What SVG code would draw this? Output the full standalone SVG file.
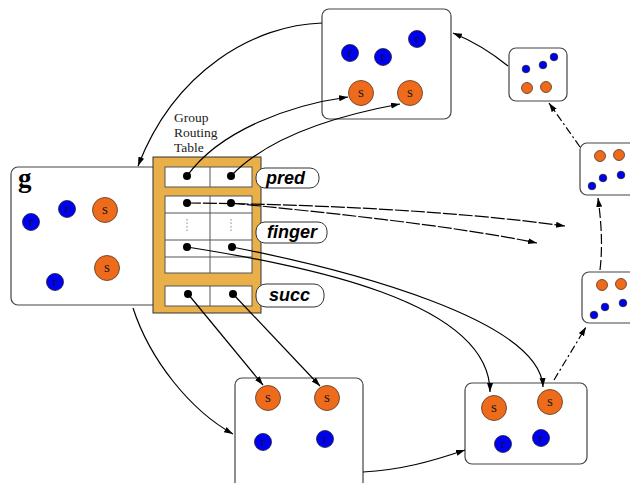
<svg xmlns="http://www.w3.org/2000/svg" width="630" height="483" viewBox="0 0 630 483">
<defs>
<marker id="ah" markerUnits="userSpaceOnUse" markerWidth="10" markerHeight="8" refX="9" refY="3" orient="auto">
<path d="M0,0 L9,3 L0,6 z" fill="#000"/>
</marker>
<style>
.box{fill:#fff;stroke:#444;stroke-width:1.2}
.b{fill:#0000f0;stroke:#223;stroke-width:0.8}
.o{fill:#ef6b1c;stroke:#553322;stroke-width:0.8}
.lbl{font-family:"Liberation Serif",serif;fill:#1a1a1a;text-anchor:middle}
.ls{font-size:15px}
.lr{font-size:12px;fill:#111}
.con{fill:none;stroke:#000;stroke-width:1.2;marker-end:url(#ah)}
.dash{stroke-dasharray:14 2}
.dd{stroke-dasharray:8 3 2 3}
.cell{fill:#fff;stroke:#555;stroke-width:1}
.dot{fill:#000}
.pill{fill:#fff;stroke:#333;stroke-width:1}
.pt{font-family:"Liberation Sans",Arial,sans-serif;font-weight:bold;font-style:italic;font-size:18px;fill:#000}
</style>
</defs>
<rect width="630" height="483" fill="#fff"/>

<g id="node-top">
<rect class="box" x="322" y="9" width="129" height="110" rx="7"/>
<circle class="b" cx="350" cy="53" r="8.5"/><text class="lbl lr" x="350" y="57">r</text>
<circle class="b" cx="383" cy="57" r="8.5"/><text class="lbl lr" x="383" y="61">r</text>
<circle class="b" cx="417" cy="39" r="8.5"/><text class="lbl lr" x="417" y="43">r</text>
<circle class="o" cx="361" cy="93" r="12.5"/><text class="lbl ls" x="361" y="97">s</text>
<circle class="o" cx="410" cy="93" r="12.5"/><text class="lbl ls" x="410" y="97">s</text>
</g>

<g id="node-small-top">
<rect class="box" x="509" y="48" width="58" height="53" rx="7"/>
<circle class="b" cx="526" cy="69" r="3.8"/>
<circle class="b" cx="543" cy="65" r="3.8"/>
<circle class="b" cx="554" cy="57" r="3.8"/>
<circle class="o" cx="527" cy="88" r="5.5"/>
<circle class="o" cx="546" cy="87" r="5.5"/>
</g>

<g id="node-right-mid">
<rect class="box" x="580" y="143" width="60" height="52" rx="7"/>
<circle class="o" cx="600" cy="156" r="5.5"/>
<circle class="o" cx="619" cy="155" r="5.5"/>
<circle class="b" cx="592" cy="186" r="3.8"/>
<circle class="b" cx="603" cy="178" r="3.8"/>
<circle class="b" cx="621" cy="175" r="3.8"/>
</g>

<g id="node-right-low">
<rect class="box" x="582" y="272" width="60" height="51" rx="7"/>
<circle class="o" cx="602" cy="285" r="5.5"/>
<circle class="o" cx="621" cy="284" r="5.5"/>
<circle class="b" cx="594" cy="315" r="3.8"/>
<circle class="b" cx="605" cy="307" r="3.8"/>
<circle class="b" cx="623" cy="303" r="3.8"/>
</g>

<g id="node-bottom-right">
<rect class="box" x="465" y="383" width="122" height="81" rx="7"/>
<circle class="o" cx="494" cy="408" r="12.5"/><text class="lbl ls" x="494" y="412">s</text>
<circle class="o" cx="550" cy="402" r="12.5"/><text class="lbl ls" x="550" y="406">s</text>
<circle class="b" cx="503" cy="444" r="8.5"/><text class="lbl lr" x="503" y="448">r</text>
<circle class="b" cx="541" cy="438" r="8.5"/><text class="lbl lr" x="541" y="442">r</text>
</g>

<g id="node-bottom-center">
<rect class="box" x="235" y="378" width="128" height="120" rx="7"/>
<circle class="o" cx="268" cy="398" r="12.5"/><text class="lbl ls" x="268" y="402">s</text>
<circle class="o" cx="327" cy="398" r="12.5"/><text class="lbl ls" x="327" y="402">s</text>
<circle class="b" cx="263" cy="442" r="8.5"/><text class="lbl lr" x="263" y="446">r</text>
<circle class="b" cx="325" cy="439" r="8.5"/><text class="lbl lr" x="325" y="443">r</text>
</g>

<g id="node-g">
<rect class="box" x="11" y="167" width="150" height="138" rx="7"/>
<text x="18" y="187" font-family="'Liberation Serif',serif" font-weight="bold" font-size="27" fill="#000">g</text>
<circle class="b" cx="31" cy="222" r="8.5"/><text class="lbl lr" x="31" y="226">r</text>
<circle class="b" cx="67" cy="209" r="8.5"/><text class="lbl lr" x="67" y="213">r</text>
<circle class="o" cx="105" cy="210" r="12.5"/><text class="lbl ls" x="105" y="214">s</text>
<circle class="o" cx="107" cy="268" r="12.5"/><text class="lbl ls" x="107" y="272">s</text>
<circle class="b" cx="55" cy="282" r="8.5"/><text class="lbl lr" x="55" y="286">r</text>
</g>

<g id="routing-table">
<text font-family="'Liberation Serif',serif" font-size="13.5" fill="#222"><tspan x="174" y="122">Group</tspan><tspan x="174" y="137">Routing</tspan><tspan x="174" y="152">Table</tspan></text>
<rect x="153" y="157" width="108" height="156" fill="#e9b04a" stroke="#333" stroke-width="1"/>
<rect class="cell" x="165" y="167" width="87" height="20"/>
<line x1="210" y1="167" x2="210" y2="187" stroke="#555"/>
<rect class="cell" x="165" y="196" width="87" height="77"/>
<line x1="210" y1="196" x2="210" y2="273" stroke="#555"/>
<line x1="165" y1="213" x2="252" y2="213" stroke="#555"/>
<line x1="165" y1="240" x2="252" y2="240" stroke="#555"/>
<line x1="165" y1="257" x2="252" y2="257" stroke="#555"/>
<line x1="187" y1="219" x2="187" y2="232" stroke="#888" stroke-dasharray="1.5 2"/>
<line x1="231" y1="219" x2="231" y2="232" stroke="#888" stroke-dasharray="1.5 2"/>
<rect class="cell" x="165" y="286" width="87" height="20"/>
<line x1="210" y1="286" x2="210" y2="306" stroke="#555"/>
<circle class="dot" cx="187" cy="176" r="4"/>
<circle class="dot" cx="231" cy="176" r="4"/>
<circle class="dot" cx="187" cy="203" r="4"/>
<circle class="dot" cx="231" cy="203" r="4"/>
<circle class="dot" cx="187" cy="247" r="4"/>
<circle class="dot" cx="232" cy="247" r="4"/>
<circle class="dot" cx="188" cy="294" r="4"/>
<circle class="dot" cx="233" cy="294" r="4"/>
</g>

<g id="label-pred"><rect class="pill" x="256" y="168" width="63" height="20" rx="9"/><text class="pt" x="266" y="184">pred</text></g>
<g id="label-finger"><rect class="pill" x="256" y="222" width="71" height="21" rx="9"/><text class="pt" x="267" y="238">finger</text></g>
<g id="label-succ"><rect class="pill" x="256" y="284" width="68" height="23" rx="10"/><text class="pt" x="269" y="301">succ</text></g>

<g id="connectors">
<path class="con" d="M322,23 C255,25 175,70 138,166"/>
<path class="con" d="M133,308 C150,360 190,410 233,434"/>
<path class="con" d="M363,472 C400,470 430,462 465,450"/>
<path class="con dd" d="M554,380 L586,327"/>
<path class="con" style="stroke-dasharray:10 3" d="M600,270 C603,245 601,220 598,198"/>
<path class="con dd" d="M580,147 L549,103"/>
<path class="con" d="M508,66 C492,53 475,42 453,33"/>
<path class="con" d="M187,176 C220,130 290,105 348,97"/>
<path class="con" d="M231,176 C270,135 340,115 400,104"/>
<path class="con dash" d="M187,203 C300,204 450,210 565,226"/>
<path class="con dash" d="M231,203 C320,212 450,225 537,243"/>
<path class="con" d="M187,247 C300,265 490,300 490,392"/>
<path class="con" d="M232,247 C350,270 540,320 543,387"/>
<path class="con" d="M188,294 L263,385"/>
<path class="con" d="M233,294 L320,386"/>
</g>
</svg>
